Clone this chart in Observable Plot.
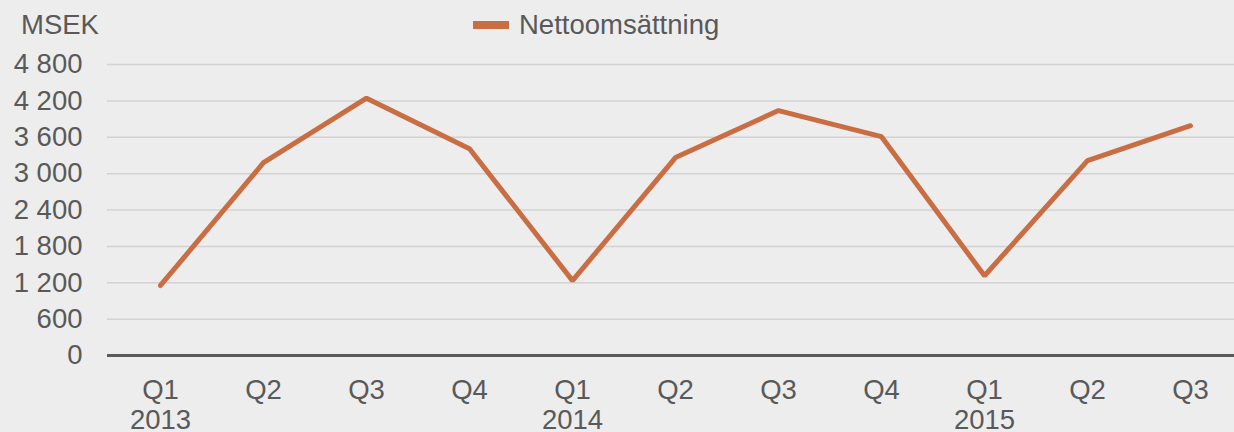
<!DOCTYPE html>
<html>
<head>
<meta charset="utf-8">
<script src="https://cdn.jsdelivr.net/npm/d3@7"></script>
<script src="https://cdn.jsdelivr.net/npm/@observablehq/plot@0.6"></script>
<style>
  html, body { margin: 0; padding: 0; background: #ededed; }
  body { width: 1234px; height: 432px; overflow: hidden; position: relative;
         font-family: "Liberation Sans", Arial, sans-serif; color: #595959; }
  #unit { position: absolute; left: 21px; top: 9px; font-size: 27.5px; line-height: 32px; }
  #legend { position: absolute; left: 473px; top: 9px; font-size: 27.5px; line-height: 32px; display: flex; align-items: center; }
  #legend .sw { width: 36px; height: 8px; background: #c96d43; margin-right: 10px; }
  #chart { position: absolute; left: 0; top: 0; }
</style>
</head>
<body>
<div id="chart"></div>
<div id="unit">MSEK</div>
<div id="legend"><span class="sw"></span><span>Nettoomsättning</span></div>
<script>
const quarters = ["Q1","Q2","Q3","Q4","Q1","Q2","Q3","Q4","Q1","Q2","Q3"];
const years    = ["2013","","","","2014","","","","2015","",""];
const netSales = [1155, 3180, 4245, 3410, 1235, 3265, 4040, 3610, 1315, 3215, 3790];
const yTicks   = [0, 600, 1200, 1800, 2400, 3000, 3600, 4200, 4800];
const seriesName = "Nettoomsättning";

const data = netSales.map((v, i) => ({i, value: v, series: seriesName}));
const fmt = n => n >= 1000 ? Math.floor(n / 1000) + " " + String(n % 1000).padStart(3, "0") : String(n);

const chart = Plot.plot({
  width: 1234,
  height: 432,
  marginLeft: 107,
  marginRight: 0,
  marginTop: 64,
  marginBottom: 77,
  style: {background: "#ededed", fontFamily: "'Liberation Sans', Arial, sans-serif", fontSize: "27.5px", color: "#595959"},
  x: {type: "point", domain: d3.range(quarters.length), range: [159, 1191], padding: 0},
  y: {domain: [0, 4800]},
  marks: [
    Plot.ruleY(yTicks.filter(d => d > 0), {stroke: "#d2d2d2", strokeWidth: 1.5}),
    Plot.ruleY([0], {stroke: "#595959", strokeWidth: 3}),
    Plot.axisY({ticks: yTicks, tickFormat: fmt, tickSize: 0, tickPadding: 25, label: null, fill: "#595959", fontSize: 27.5}),
    Plot.axisX({tickFormat: i => years[i] ? quarters[i] + "\n" + years[i] : quarters[i], tickSize: 0, tickPadding: 22, label: null, fill: "#595959", fontSize: 27.5, lineHeight: 1.1}),
    Plot.line(data, {x: "i", y: "value", stroke: "#c96d43", strokeWidth: 5, strokeLinejoin: "miter", strokeLinecap: "round"})
  ]
});
document.getElementById("chart").append(chart);
</script>
</body>
</html>
